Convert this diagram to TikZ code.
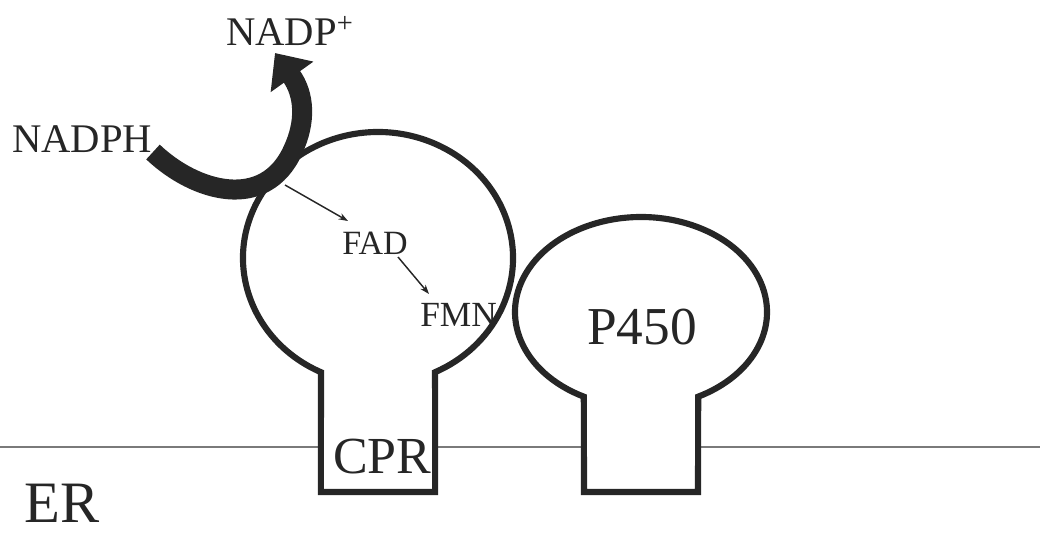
\documentclass[tikz,border=0pt]{standalone}
\usepackage{fontspec}
\setmainfont{Liberation Serif}
\usetikzlibrary{arrows.meta}
\definecolor{ink}{HTML}{262626}
\definecolor{erline}{HTML}{7A7A7A}
\tikzset{
  protein/.style={draw=ink, line width=4.6pt, line join=miter},
  lbl/.style={text=ink, inner sep=0pt, anchor=base west},
  thinarrow/.style={draw=ink, line width=1.1pt, -{Stealth[length=7pt,width=5pt]}},
  bigarrow/.style={draw=ink, line width=15pt, line cap=butt, -{Triangle[length=22pt,width=38pt]}},
  membrane/.style={draw=erline, line width=1.1pt}
}
\begin{document}
\begin{tikzpicture}[x=0.75pt,y=-0.75pt]
\useasboundingbox (0,0) rectangle (1063,540);
% ER membrane
\draw[membrane] (0,447) -- (321,447);
\draw[membrane] (435,447) -- (584,447);
\draw[membrane] (698,447) -- (1040,447);
% CPR body
\draw[protein] (320.9,492) -- ([shift={(378,258)}]115:135 and 126)
  arc[start angle=115, end angle=425, x radius=135, y radius=126]
  -- (435.1,492) -- cycle;
% P450 body
\draw[protein] (584,492) -- ([shift={(641,312)}]117:126 and 95)
  arc[start angle=117, end angle=423, x radius=126, y radius=95]
  -- (698,492) -- cycle;
% labels
\node[lbl, font=\fontsize{30.5}{36}\selectfont] (nadph) at (12,152) {NADPH};
\node[lbl, font=\fontsize{30.5}{36}\selectfont] (nadp) at (226,45) {NADP\textsuperscript{+}};
\node[lbl, font=\fontsize{25.5}{30}\selectfont] (fad) at (342,254) {FAD};
\node[lbl, font=\fontsize{26.5}{30}\selectfont] (fmn) at (420,326) {FMN};
\node[lbl, font=\fontsize{39}{44}\selectfont] (cpr) at (333,473) {CPR};
\node[lbl, font=\fontsize{40}{44}\selectfont] (p450) at (587,344) {P450};
\node[lbl, font=\fontsize{44}{50}\selectfont] (er) at (24,522) {ER};
% big NADPH -> NADP+ arrow
\coordinate (bstart) at (153,152);
\coordinate (btip) at (275,53);
\draw[bigarrow] (bstart) .. controls (195,192) and (265,212) .. (293,150)
  .. controls (306,122) and (305,95) .. (btip);
% electron transfer arrows
\coordinate (e1) at (285,185);
\coordinate (e1end) at (348,221);
\coordinate (e2) at (398,257);
\coordinate (e2end) at (429,294);
\draw[thinarrow] (e1) -- (e1end);
\draw[thinarrow] (e2) -- (e2end);
\end{tikzpicture}
\end{document}
